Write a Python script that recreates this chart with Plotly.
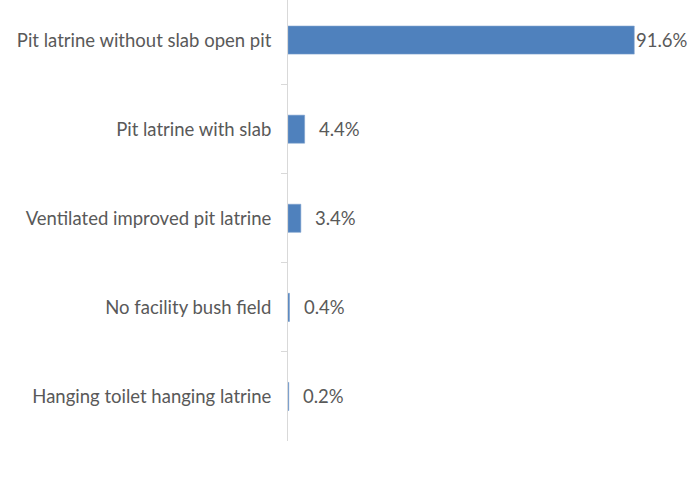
import plotly.graph_objects as go

# Type of toilet facility used by households (share of households, %)
categories = [
    "Pit latrine without slab open pit",
    "Pit latrine with slab",
    "Ventilated improved pit latrine",
    "No facility bush field",
    "Hanging toilet hanging latrine",
]
shares = [91.6, 4.4, 3.4, 0.4, 0.2]
share_labels = ["91.6%", "4.4%", "3.4%", "0.4%", "0.2%"]

TEXT = "#595959"
BAR = "#4F81BD"
AXIS = "#D9D9D9"
FONT = "Lato"
SIZE = 18.5

fig = go.Figure(
    go.Bar(
        x=shares,
        y=categories,
        orientation="h",
        marker=dict(color=BAR, line=dict(color="#7FA3CF", width=0.6)),
        width=0.315,
        hoverinfo="skip",
    )
)

x_max = 100
for cat, val, lab in zip(categories, shares, share_labels):
    near_edge = val > 0.85 * x_max
    fig.add_annotation(
        x=val, y=cat, text=lab, showarrow=False,
        xanchor="left", yanchor="middle",
        xshift=0 if near_edge else 12,
        font=dict(family=FONT, size=SIZE, color=TEXT),
    )

fig.update_layout(
    width=697, height=499,
    margin=dict(l=288, r=31, t=0, b=58),
    paper_bgcolor="white", plot_bgcolor="white",
    showlegend=False,
    font=dict(family=FONT, size=SIZE, color=TEXT),
)
fig.update_xaxes(range=[0, x_max], visible=False, showgrid=False, zeroline=False)
fig.update_yaxes(
    type="category",
    categoryorder="array", categoryarray=categories,
    range=[4.5, -0.45],
    showline=True, linecolor=AXIS, linewidth=1,
    ticks="outside", tickson="boundaries", ticklen=6, tickcolor=AXIS,
    showgrid=False, zeroline=False,
    ticklabelstandoff=12,
    tickfont=dict(family=FONT, size=SIZE, color=TEXT),
)

fig.write_html("out.html")
